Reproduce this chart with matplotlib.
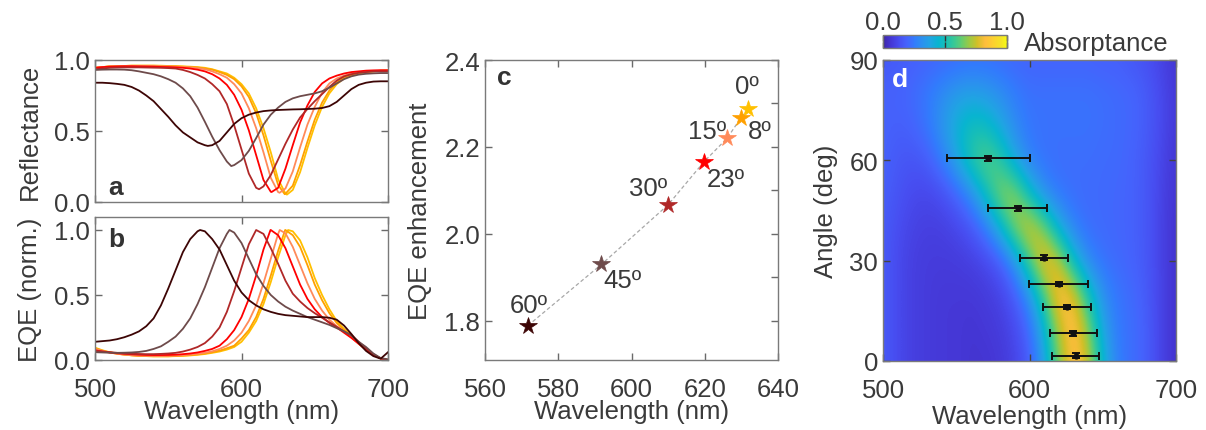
import numpy as np
import matplotlib
matplotlib.use("Agg")
import matplotlib.pyplot as plt
from matplotlib.colors import LinearSegmentedColormap
from matplotlib.ticker import MultipleLocator

# ---------------- data ----------------
angles = [0, 8, 15, 23, 30, 45, 60]
angle_labels = ["0º", "8º", "15º", "23º", "30º", "45º", "60º"]
colors = ["#FFC000", "#FFA000", "#FF8A5A", "#FF0000", "#B02828", "#6E4B4B", "#3D0505"]

wl = [500, 505, 510, 515, 520, 525, 530, 535, 540, 545,
      550, 555, 560, 565, 570, 575, 580, 585, 590, 595,
      600, 605, 610, 615, 620, 625, 630, 635, 640, 645,
      650, 655, 660, 665, 670, 675, 680, 685, 690, 695, 700]

# Reflectance (panel a)
R0 = [0.945, 0.95, 0.955, 0.955, 0.958, 0.96, 0.96, 0.96, 0.96, 0.96,
      0.958, 0.957, 0.955, 0.953, 0.95, 0.945, 0.935, 0.92, 0.905, 0.875,
      0.83, 0.765, 0.66, 0.52, 0.35, 0.16, 0.06, 0.085, 0.21, 0.38,
      0.54, 0.67, 0.765, 0.83, 0.87, 0.89, 0.905, 0.915, 0.92, 0.925, 0.925]
R8 = [0.945, 0.95, 0.955, 0.955, 0.958, 0.96, 0.96, 0.96, 0.96, 0.958,
      0.957, 0.955, 0.953, 0.95, 0.947, 0.94, 0.932, 0.915, 0.895, 0.865,
      0.815, 0.74, 0.625, 0.47, 0.29, 0.12, 0.058, 0.115, 0.26, 0.425,
      0.58, 0.70, 0.785, 0.845, 0.877, 0.895, 0.908, 0.916, 0.92, 0.924, 0.925]
R15 = [0.945, 0.95, 0.955, 0.955, 0.957, 0.958, 0.958, 0.958, 0.957, 0.956,
       0.955, 0.953, 0.95, 0.948, 0.943, 0.935, 0.92, 0.90, 0.875, 0.83,
       0.765, 0.66, 0.52, 0.35, 0.17, 0.07, 0.095, 0.215, 0.385, 0.545,
       0.67, 0.77, 0.835, 0.87, 0.89, 0.905, 0.915, 0.92, 0.923, 0.925, 0.925]
R23 = [0.945, 0.95, 0.953, 0.955, 0.956, 0.956, 0.955, 0.954, 0.953, 0.951,
       0.95, 0.948, 0.945, 0.94, 0.932, 0.92, 0.90, 0.87, 0.825, 0.755,
       0.65, 0.505, 0.33, 0.155, 0.072, 0.10, 0.235, 0.40, 0.56, 0.68,
       0.775, 0.835, 0.87, 0.89, 0.905, 0.915, 0.92, 0.925, 0.927, 0.928, 0.928]
R30 = [0.935, 0.94, 0.945, 0.947, 0.948, 0.948, 0.948, 0.947, 0.946, 0.945,
       0.943, 0.94, 0.93, 0.915, 0.895, 0.87, 0.83, 0.78, 0.69, 0.54,
       0.37, 0.20, 0.10, 0.11, 0.19, 0.30, 0.41, 0.51, 0.595, 0.655,
       0.71, 0.76, 0.81, 0.855, 0.885, 0.90, 0.91, 0.915, 0.92, 0.92, 0.92]
R45 = [0.93, 0.932, 0.933, 0.933, 0.932, 0.928, 0.92, 0.91, 0.90, 0.885,
       0.865, 0.84, 0.80, 0.745, 0.665, 0.565, 0.46, 0.365, 0.285, 0.26,
       0.295, 0.36, 0.45, 0.545, 0.615, 0.665, 0.705, 0.73, 0.745, 0.755,
       0.765, 0.78, 0.805, 0.835, 0.865, 0.885, 0.897, 0.903, 0.906, 0.908, 0.908]
R60 = [0.84, 0.84, 0.837, 0.832, 0.825, 0.81, 0.785, 0.75, 0.71, 0.655,
       0.60, 0.54, 0.49, 0.455, 0.42, 0.40, 0.40, 0.43, 0.49, 0.55,
       0.59, 0.615, 0.63, 0.64, 0.645, 0.648, 0.65, 0.652, 0.653, 0.655,
       0.657, 0.662, 0.675, 0.705, 0.75, 0.795, 0.825, 0.84, 0.848, 0.85, 0.85]
refl = [R0, R8, R15, R23, R30, R45, R60]
dip_wl = [631, 629.5, 626, 620.5, 612, 593, 577]
dip_min = [0.052, 0.055, 0.065, 0.07, 0.09, 0.253, 0.395]

# Normalised EQE (panel b)
E0 = [0.095, 0.075, 0.06, 0.05, 0.042, 0.036, 0.032, 0.03, 0.028, 0.028,
      0.028, 0.03, 0.032, 0.035, 0.04, 0.046, 0.055, 0.065, 0.08, 0.10,
      0.14, 0.21, 0.30, 0.43, 0.60, 0.79, 0.96, 0.99, 0.92, 0.79,
      0.63, 0.50, 0.39, 0.30, 0.24, 0.19, 0.13, 0.08, 0.04, 0.012, 0.0]
E8 = [0.09, 0.072, 0.058, 0.048, 0.041, 0.036, 0.032, 0.03, 0.029, 0.029,
      0.029, 0.031, 0.034, 0.038, 0.043, 0.05, 0.06, 0.072, 0.09, 0.11,
      0.165, 0.23, 0.33, 0.47, 0.65, 0.84, 1.0, 0.96, 0.87, 0.73,
      0.58, 0.46, 0.36, 0.285, 0.23, 0.18, 0.125, 0.08, 0.04, 0.012, 0.0]
E15 = [0.085, 0.07, 0.058, 0.048, 0.042, 0.037, 0.034, 0.032, 0.031, 0.031,
       0.032, 0.034, 0.037, 0.042, 0.048, 0.056, 0.067, 0.085, 0.11, 0.15,
       0.21, 0.30, 0.42, 0.59, 0.78, 0.97, 0.975, 0.87, 0.73, 0.59,
       0.47, 0.38, 0.31, 0.26, 0.22, 0.175, 0.125, 0.08, 0.04, 0.012, 0.0]
E23 = [0.075, 0.065, 0.058, 0.052, 0.048, 0.044, 0.041, 0.039, 0.038, 0.038,
       0.039, 0.041, 0.045, 0.05, 0.058, 0.07, 0.085, 0.11, 0.16, 0.23,
       0.33, 0.47, 0.65, 0.85, 1.0, 0.96, 0.86, 0.72, 0.58, 0.47,
       0.39, 0.33, 0.285, 0.25, 0.21, 0.17, 0.125, 0.08, 0.04, 0.012, 0.0]
E30 = [0.07, 0.065, 0.06, 0.055, 0.05, 0.048, 0.046, 0.045, 0.045, 0.047,
       0.05, 0.055, 0.065, 0.08, 0.10, 0.13, 0.18, 0.25, 0.37, 0.53,
       0.71, 0.89, 1.0, 0.97, 0.86, 0.74, 0.61, 0.51, 0.45, 0.40,
       0.36, 0.325, 0.29, 0.255, 0.22, 0.19, 0.14, 0.09, 0.045, 0.012, 0.0]
E45 = [0.06, 0.058, 0.056, 0.055, 0.056, 0.058, 0.062, 0.07, 0.085, 0.105,
       0.14, 0.18, 0.24, 0.32, 0.43, 0.56, 0.71, 0.86, 0.97, 0.98,
       0.90, 0.78, 0.66, 0.57, 0.50, 0.45, 0.41, 0.38, 0.355, 0.33,
       0.31, 0.29, 0.27, 0.245, 0.22, 0.19, 0.14, 0.10, 0.05, 0.015, 0.005]
E60 = [0.14, 0.145, 0.15, 0.16, 0.175, 0.195, 0.22, 0.26, 0.32, 0.42,
       0.55, 0.69, 0.83, 0.93, 0.99, 0.99, 0.93, 0.85, 0.73, 0.61,
       0.52, 0.46, 0.42, 0.39, 0.37, 0.355, 0.345, 0.34, 0.335, 0.33,
       0.33, 0.33, 0.325, 0.31, 0.265, 0.20, 0.13, 0.07, 0.03, 0.01, 0.06]
eqe = [E0, E8, E15, E23, E30, E45, E60]

# EQE peak wavelength and enhancement (panel c)
peak_wl = [631.8, 629.8, 626.1, 619.8, 610.0, 591.8, 571.7]
enhancement = [2.287, 2.266, 2.220, 2.166, 2.067, 1.930, 1.789]
label_offsets = [(-0.6, 11.5), (13.5, -14.2), (-14.3, 0.2), (15.6, -17.5),
                 (-14.3, 7.0), (15.3, -16.1), (0.7, 10.1)]

# Absorptance map (panel d): rows = angle, columns = wavelength
map_wl = [500, 510, 520, 530, 540, 550, 560, 570, 580, 590, 600,
          610, 620, 630, 640, 650, 660, 670, 680, 690, 700]
map_ang = [0, 10, 20, 30, 40, 50, 60, 70, 80, 90]
A00 = [0.17, 0.12, 0.09, 0.08, 0.07, 0.07, 0.06, 0.06, 0.07, 0.10, 0.17, 0.36, 0.66, 0.86, 0.76, 0.45, 0.26, 0.22, 0.18, 0.10, 0.05]
A10 = [0.17, 0.12, 0.09, 0.08, 0.07, 0.07, 0.06, 0.07, 0.08, 0.12, 0.21, 0.43, 0.74, 0.87, 0.68, 0.38, 0.25, 0.22, 0.18, 0.10, 0.05]
A20 = [0.17, 0.12, 0.09, 0.08, 0.07, 0.07, 0.07, 0.08, 0.10, 0.17, 0.32, 0.60, 0.86, 0.80, 0.52, 0.31, 0.24, 0.21, 0.17, 0.10, 0.05]
A30 = [0.17, 0.12, 0.09, 0.08, 0.08, 0.08, 0.09, 0.11, 0.17, 0.32, 0.60, 0.84, 0.76, 0.47, 0.29, 0.23, 0.21, 0.19, 0.16, 0.10, 0.05]
A40 = [0.17, 0.13, 0.10, 0.09, 0.09, 0.11, 0.15, 0.25, 0.43, 0.68, 0.80, 0.66, 0.41, 0.27, 0.22, 0.21, 0.20, 0.19, 0.16, 0.10, 0.05]
A50 = [0.18, 0.15, 0.12, 0.11, 0.13, 0.19, 0.30, 0.48, 0.68, 0.70, 0.48, 0.31, 0.24, 0.22, 0.21, 0.21, 0.20, 0.19, 0.16, 0.10, 0.06]
A60 = [0.19, 0.16, 0.15, 0.17, 0.25, 0.38, 0.54, 0.63, 0.56, 0.39, 0.27, 0.23, 0.22, 0.22, 0.22, 0.21, 0.21, 0.19, 0.16, 0.11, 0.06]
A70 = [0.19, 0.18, 0.19, 0.24, 0.33, 0.43, 0.50, 0.49, 0.40, 0.30, 0.24, 0.23, 0.23, 0.23, 0.23, 0.22, 0.21, 0.20, 0.17, 0.12, 0.07]
A80 = [0.19, 0.19, 0.21, 0.25, 0.30, 0.35, 0.37, 0.35, 0.31, 0.26, 0.23, 0.23, 0.23, 0.23, 0.23, 0.22, 0.21, 0.20, 0.17, 0.12, 0.07]
A90 = [0.16, 0.17, 0.18, 0.19, 0.20, 0.21, 0.22, 0.22, 0.21, 0.20, 0.19, 0.19, 0.19, 0.19, 0.19, 0.18, 0.18, 0.16, 0.14, 0.10, 0.06]
absorptance = [A00, A10, A20, A30, A40, A50, A60, A70, A80, A90]

# measured resonance positions (panel d)
res_wl = [631.5, 629.9, 625.6, 620.0, 609.9, 591.9, 571.9]
res_ang = [1.6, 8.3, 16.1, 23.0, 30.9, 45.7, 60.6]
res_wl_err = [16, 16, 16.3, 20.2, 16.3, 19.9, 28.1]
res_ang_err = [0.7, 0.7, 0.7, 0.7, 0.7, 0.7, 0.7]

# ---------------- style ----------------
plt.rcParams["font.family"] = ["Liberation Sans", "DejaVu Sans"]
plt.rcParams["font.size"] = 18.5
TXT = "#3a3a3a"
SPINE = "#7a7a7a"
plt.rcParams["text.color"] = TXT
plt.rcParams["axes.labelcolor"] = TXT

parula_pts = [
    (0.2422, 0.1504, 0.6603), (0.2706, 0.2147, 0.8364), (0.2813, 0.3006, 0.9414),
    (0.2699, 0.3892, 0.9906), (0.1963, 0.4847, 0.9892), (0.1687, 0.5703, 0.9359),
    (0.1248, 0.6459, 0.8883), (0.0297, 0.7082, 0.8163), (0.0964, 0.7500, 0.7120),
    (0.2161, 0.7843, 0.5923), (0.3909, 0.8029, 0.4354), (0.6174, 0.7876, 0.2612),
    (0.8203, 0.7498, 0.1535), (0.9956, 0.7434, 0.2371), (0.9892, 0.8136, 0.1885),
    (0.9610, 0.8890, 0.1537), (0.9769, 0.9839, 0.0805)]
parula_pos = [0, 4, 8, 12, 16, 20, 24, 28, 32, 36, 40, 44, 48, 52, 56, 60, 63]
parula = LinearSegmentedColormap.from_list(
    "parula", [(p / 63.0, c) for p, c in zip(parula_pos, parula_pts)])


def style(ax, xpad=12, ypad=3.5, tcol="#6a6a6a"):
    for s in ax.spines.values():
        s.set_color(SPINE)
        s.set_linewidth(1.0)
    ax.tick_params(which="both", direction="in", length=5, width=1, color=tcol,
                   top=True, right=True, labelcolor=TXT, labelsize=18.5)
    ax.tick_params(axis="x", pad=xpad)
    ax.tick_params(axis="y", pad=ypad)


W, H = 1206, 431
fig = plt.figure(figsize=(W / 100, H / 100), dpi=100)


def box(l, t, r, b):
    return [l / W, (H - b) / H, (r - l) / W, (b - t) / H]


axa = fig.add_axes(box(95, 61, 388, 203))
axb = fig.add_axes(box(95, 218, 388, 361))
axc = fig.add_axes(box(485, 61, 778, 361))
axd = fig.add_axes(box(883, 61, 1176, 362))
cax = fig.add_axes(box(883, 36, 1007, 49))

wl_arr = np.array(wl, dtype=float)
LW = 1.3
LETTER = 19

# ---- panel a ----
for vals, c, dw, dm in zip(refl, colors, dip_wl, dip_min):
    x = np.append(wl_arr, dw)
    y = np.append(np.array(vals), dm)
    o = np.argsort(x, kind="stable")
    axa.plot(x[o], y[o], color=c, lw=LW)
axa.set_xlim(500, 700)
axa.set_ylim(0, 1.0)
axa.set_xticks([500, 600, 700])
axa.set_yticks([0, 0.5, 1.0])
axa.set_yticklabels(["0.0", "0.5", "1.0"])
style(axa)
axa.tick_params(labelbottom=False)
axa.set_ylabel("Reflectance")
axa.yaxis.set_label_coords(-0.18, 0.5)
axa.text(0.045, 0.056, "a", transform=axa.transAxes, fontsize=LETTER,
         fontweight="bold", color="#333333", va="baseline")

# ---- panel b ----
for vals, c, pw in zip(eqe, colors, peak_wl):
    x = np.append(wl_arr, pw)
    y = np.append(np.array(vals), 1.0)
    o = np.argsort(x, kind="stable")
    axb.plot(x[o], y[o], color=c, lw=LW)
axb.set_xlim(500, 700)
axb.set_ylim(0, 1.1)
axb.set_xticks([500, 600, 700])
axb.set_yticks([0, 0.5, 1.0])
axb.set_yticklabels(["0.0", "0.5", "1.0"])
style(axb)
axb.set_ylabel("EQE (norm.)")
axb.yaxis.set_label_coords(-0.18, 0.5)
axb.set_xlabel("Wavelength (nm)")
axb.xaxis.set_label_coords(0.5, -0.27)
axb.text(0.045, 0.80, "b", transform=axb.transAxes, fontsize=LETTER,
         fontweight="bold", color="#333333", va="baseline")

# ---- panel c ----
o = np.argsort(peak_wl)
axc.plot(np.array(peak_wl)[o], np.array(enhancement)[o], ls=(0, (3, 2)),
         color="#a8a8a8", lw=0.9, zorder=1)
for xw, ye, c, lab, off in zip(peak_wl, enhancement, colors, angle_labels, label_offsets):
    axc.plot([xw], [ye], marker="*", ms=13, color=c, mec=c, mew=0.5,
             ls="none", zorder=3)
    axc.annotate(lab, (xw, ye), xytext=off, textcoords="offset points",
                 ha="center", va="baseline", fontsize=18.5, color=TXT)
axc.set_xlim(560, 640)
axc.set_ylim(1.71, 2.4)
axc.set_xticks([560, 580, 600, 620, 640])
axc.set_yticks([1.8, 2.0, 2.2, 2.4])
axc.yaxis.set_minor_locator(MultipleLocator(0.1))
style(axc)
axc.tick_params(which="minor", left=False, right=True)
axc.set_ylabel("EQE enhancement")
axc.yaxis.set_label_coords(-0.181, 0.5)
axc.set_xlabel("Wavelength (nm)")
axc.xaxis.set_label_coords(0.5, -0.13)
axc.text(0.04, 0.92, "c", transform=axc.transAxes, fontsize=LETTER,
         fontweight="bold", color="#333333", va="baseline")

# ---- panel d ----
dwl = map_wl[1] - map_wl[0]
dang = map_ang[1] - map_ang[0]
im = axd.imshow(np.array(absorptance), origin="lower", aspect="auto",
                cmap=parula, vmin=0, vmax=1, interpolation="bicubic",
                extent=[map_wl[0] - dwl / 2, map_wl[-1] + dwl / 2,
                        map_ang[0] - dang / 2, map_ang[-1] + dang / 2])
axd.errorbar(res_wl, res_ang, xerr=res_wl_err, yerr=res_ang_err, fmt="o",
             ms=3.5, color="#111111", ecolor="#111111", elinewidth=1.4,
             capsize=3, capthick=1.4)
axd.set_xlim(500, 700)
axd.set_ylim(0, 90)
axd.set_xticks([500, 600, 700])
axd.set_yticks([0, 30, 60, 90])
style(axd, tcol="#444444")
axd.set_ylabel("Angle (deg)")
axd.yaxis.set_label_coords(-0.155, 0.5)
axd.set_xlabel("Wavelength (nm)")
axd.xaxis.set_label_coords(0.5, -0.143)
axd.text(0.031, 0.915, "d", transform=axd.transAxes, fontsize=LETTER,
         fontweight="bold", color="white", va="baseline")

cb = fig.colorbar(im, cax=cax, orientation="horizontal", ticks=[0, 0.5, 1.0])
cb.outline.set_edgecolor(SPINE)
cb.outline.set_linewidth(1.0)
cax.xaxis.set_ticks_position("both")
cax.tick_params(direction="in", length=4, width=1, color="#333333",
                labeltop=True, labelbottom=False, labelsize=18.5,
                labelcolor=TXT, pad=0.5)
cax.set_xticklabels(["0.0", "0.5", "1.0"])
fig.text(1024 / W, (H - 51) / H, "Absorptance", fontsize=18.5, color=TXT,
         va="baseline", ha="left")

fig.savefig("out.png", dpi=100)
